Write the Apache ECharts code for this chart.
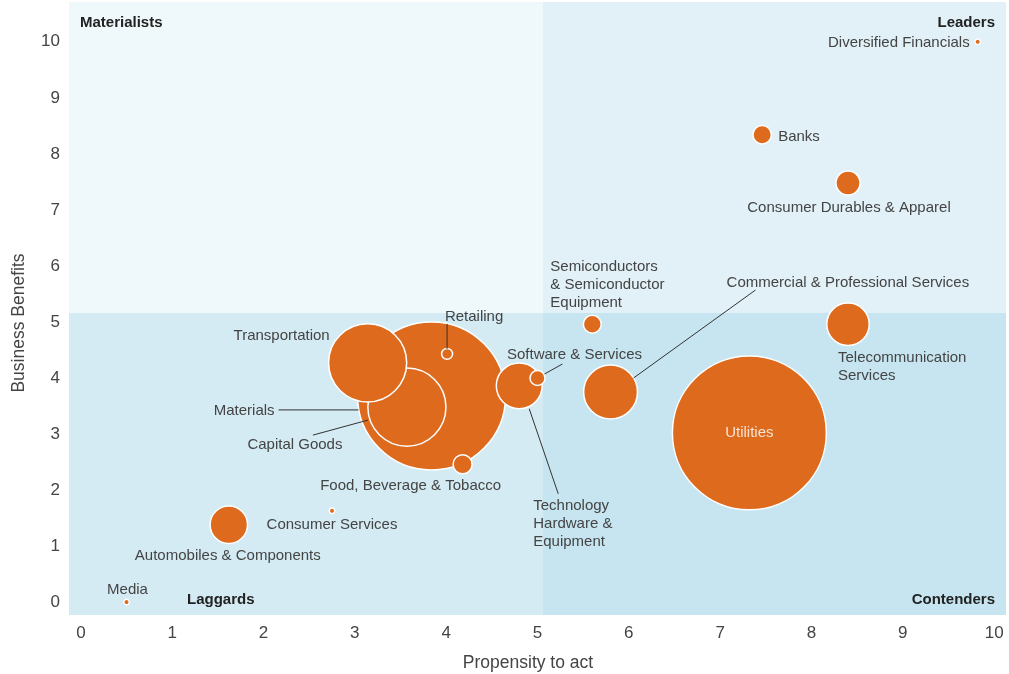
<!DOCTYPE html>
<html><head><meta charset="utf-8">
<script src="https://cdn.jsdelivr.net/npm/echarts@6/dist/echarts.min.js"></script>
<style>html,body{margin:0;padding:0;background:#fff}#c{width:1009px;height:674px}</style>
</head><body><div id="c"></div>
<script>
// ---- data ----
const names = [
  'Utilities', 'Materials', 'Capital Goods', 'Transportation', 'Retailing',
  'Food, Beverage & Tobacco', 'Technology\nHardware &\nEquipment', 'Software & Services',
  'Commercial & Professional Services', 'Semiconductors\n& Semiconductor\nEquipment',
  'Telecommunication\nServices', 'Consumer Durables & Apparel', 'Banks',
  'Diversified Financials', 'Automobiles & Components', 'Consumer Services', 'Media'
];
const propensity = [7.32, 3.84, 3.57, 3.14, 4.01, 4.18, 4.80, 5.00, 5.80, 5.60, 8.40, 8.40, 7.46, 9.82, 1.62, 2.75, 0.50];
const benefits   = [3.02, 3.68, 3.48, 4.27, 4.43, 2.46, 3.86, 4.00, 3.75, 4.96, 4.96, 7.48, 8.34, 10.0, 1.38, 1.63, 0.00];
const marketSize = [237, 219, 61, 61, 1.2, 3.6, 21, 2.25, 29, 3.2, 18, 5.8, 3.4, 0.3, 14, 0.3, 0.3];
const xTicks = [0, 1, 2, 3, 4, 5, 6, 7, 8, 9, 10];
const yTicks = [0, 1, 2, 3, 4, 5, 6, 7, 8, 9, 10];
const quadrantNames = ['Materialists', 'Leaders', 'Laggards', 'Contenders'];
const xAxisName = 'Propensity to act';
const yAxisName = 'Business Benefits';

// ---- layout / style (not data) ----
const X_MIN = -0.13, X_MAX = 10.13, Y_MIN = -0.23, Y_MAX = 10.71;
const X_SPLIT = 5.06, Y_SPLIT = 5.16;
const FONT = "'Liberation Sans', Arial, sans-serif";
const ORANGE = '#de6a1e';
const TEXT = '#444';

const labelLayout = {
  'Utilities': { offset: [0, 0], align: 'center', color: '#f6e3d3' },
  'Materials': { offset: [-157, 15], align: 'right' },
  'Capital Goods': { offset: [-112, 38], align: 'center' },
  'Transportation': { offset: [-86, -27], align: 'center' },
  'Retailing': { offset: [27, -37], align: 'center' },
  'Food, Beverage & Tobacco': { offset: [-52, 22], align: 'center' },
  'Technology\nHardware &\nEquipment': { offset: [14, 138], align: 'left' },
  'Software & Services': { offset: [37, -23], align: 'center' },
  'Commercial & Professional Services': { offset: [116, -109], align: 'left' },
  'Semiconductors\n& Semiconductor\nEquipment': { offset: [-42, -39], align: 'left' },
  'Telecommunication\nServices': { offset: [-10, 43], align: 'left' },
  'Consumer Durables & Apparel': { offset: [1, 25], align: 'center' },
  'Banks': { offset: [16, 2], align: 'left' },
  'Diversified Financials': { offset: [-8, 1], align: 'right' },
  'Automobiles & Components': { offset: [-1, 31], align: 'center' },
  'Consumer Services': { offset: [0, 14], align: 'center' },
  'Media': { offset: [1, -12], align: 'center' }
};
// leader lines: pixel offsets from bubble centre
const leaders = [
  { name: 'Commercial & Professional Services', from: [23, -14], to: [145, -102] },
  { name: 'Technology\nHardware &\nEquipment', from: [10, 23], to: [39, 108] },
  { name: 'Software & Services', from: [7, -4], to: [25, -14] },
  { name: 'Retailing', from: [0, -5], to: [0, -30] },
  { name: 'Materials', from: [-73, 14], to: [-153, 14] },
  { name: 'Capital Goods', from: [-39, 13], to: [-94, 28] }
];

const bubbleData = names.map((n, i) => {
  const l = labelLayout[n];
  return {
    name: n,
    value: [propensity[i], benefits[i], marketSize[i]],
    label: { offset: l.offset, align: l.align, color: l.color || TEXT }
  };
});

const leaderData = leaders.map(l => {
  const i = names.indexOf(l.name);
  return [propensity[i], benefits[i], l.from[0], l.from[1], l.to[0], l.to[1]];
});

const boldQ = { fontWeight: 'bold', fontSize: 15, fontFamily: FONT, fill: '#222' };

const chart = echarts.init(document.getElementById('c'), null, { renderer: 'canvas' });
chart.setOption({
  animation: false,
  backgroundColor: '#fff',
  textStyle: { fontFamily: FONT },
  grid: { left: 69, right: 3, top: 2, bottom: 59, containLabel: false },
  xAxis: {
    type: 'value', min: X_MIN, max: X_MAX,
    axisLine: { show: false }, axisTick: { show: false }, splitLine: { show: false },
    axisLabel: { customValues: xTicks, fontSize: 17, color: TEXT, margin: 10, fontFamily: FONT }
  },
  yAxis: {
    type: 'value', min: Y_MIN, max: Y_MAX,
    axisLine: { show: false }, axisTick: { show: false }, splitLine: { show: false },
    axisLabel: { customValues: yTicks, fontSize: 17, color: TEXT, margin: 9, fontFamily: FONT }
  },
  graphic: [
    { type: 'text', z: 100, left: 80, top: 15, style: Object.assign({ text: quadrantNames[0] }, boldQ) },
    { type: 'text', z: 100, right: 14, top: 15, style: Object.assign({ text: quadrantNames[1] }, boldQ) },
    { type: 'text', z: 100, left: 187, top: 592, style: Object.assign({ text: quadrantNames[2] }, boldQ) },
    { type: 'text', z: 100, right: 14, top: 592, style: Object.assign({ text: quadrantNames[3] }, boldQ) },
    { type: 'text', z: 100, x: 528, y: 663, style: { text: xAxisName, fontSize: 17.5, fontFamily: FONT, fill: TEXT, textAlign: 'center', textVerticalAlign: 'middle' } },
    { type: 'text', z: 100, x: 19, y: 323, rotation: Math.PI / 2, style: { text: yAxisName, fontSize: 17.5, fontFamily: FONT, fill: TEXT, textAlign: 'center', textVerticalAlign: 'middle' } }
  ],
  series: [
    {
      type: 'scatter', data: [], z: 0, silent: true,
      markArea: {
        silent: true,
        data: [
          [{ xAxis: X_MIN, yAxis: Y_SPLIT, itemStyle: { color: '#eff8fb' } }, { xAxis: X_SPLIT, yAxis: Y_MAX }],
          [{ xAxis: X_SPLIT, yAxis: Y_SPLIT, itemStyle: { color: '#e1f1f7' } }, { xAxis: X_MAX, yAxis: Y_MAX }],
          [{ xAxis: X_MIN, yAxis: Y_MIN, itemStyle: { color: '#d4ebf3' } }, { xAxis: X_SPLIT, yAxis: Y_SPLIT }],
          [{ xAxis: X_SPLIT, yAxis: Y_MIN, itemStyle: { color: '#c6e5f0' } }, { xAxis: X_MAX, yAxis: Y_SPLIT }]
        ]
      }
    },
    {
      type: 'scatter', z: 2,
      data: bubbleData,
      symbolSize: v => Math.sqrt(v[2]) * 10,
      itemStyle: { color: ORANGE, borderColor: '#fff', borderWidth: 1.5, opacity: 1 },
      label: {
        show: true, position: 'inside', formatter: '{b}', verticalAlign: 'middle',
        fontSize: 15, lineHeight: 18, fontFamily: FONT, color: TEXT
      },
      emphasis: { disabled: true }
    },
    {
      type: 'custom', z: 3, silent: true,
      data: leaderData,
      encode: { x: 0, y: 1 },
      renderItem: (params, api) => {
        const c = api.coord([api.value(0), api.value(1)]);
        return {
          type: 'line',
          shape: { x1: c[0] + api.value(2), y1: c[1] + api.value(3), x2: c[0] + api.value(4), y2: c[1] + api.value(5) },
          style: { stroke: '#333', lineWidth: 1 }
        };
      }
    }
  ]
});
</script>
</body></html>
